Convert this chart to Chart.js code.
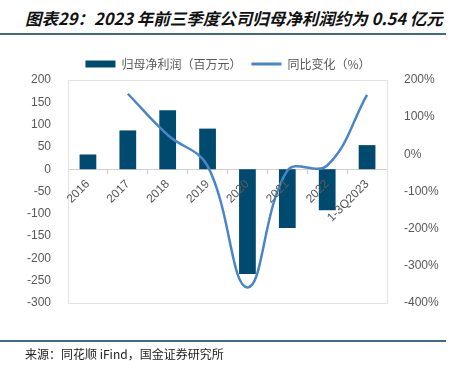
<!DOCTYPE html>
<html><head><meta charset="utf-8">
<script src="https://cdn.jsdelivr.net/npm/chart.js@4"></script>
<style>
html,body{margin:0;padding:0;background:#fff;}
#wrap{position:relative;width:456px;height:370px;overflow:hidden;}
#title{position:absolute;left:25px;top:6px;font-family:"Noto Sans CJK SC",sans-serif;font-weight:bold;font-style:italic;font-size:16.5px;color:#111;white-space:nowrap;}
.rule{position:absolute;left:0;width:446px;height:2px;background:#3e6b8a;}
#src{position:absolute;left:25px;top:345px;font-family:"Noto Sans CJK SC",sans-serif;font-size:12px;color:#222;white-space:nowrap;}
#c{position:absolute;left:0;top:0;}
</style></head><body>
<div id="wrap">
<div id="title">图表29：2023 年前三季度公司归母净利润约为 0.54 亿元</div>
<div class="rule" style="top:33px"></div>
<canvas id="c" width="456" height="370"></canvas>
<div class="rule" style="top:340px"></div>
<div id="src">来源：同花顺 iFind，国金证券研究所</div>
</div>
<script>
const categories = ["2016","2017","2018","2019","2020","2021","2022","1-3Q2023"];
const netProfit = [33, 87, 132, 91, -235, -132, -92, 54];
const yoyGrowth = [null, 163, 52, -31, -358, -44, -30, 160];
const seriesNames = ["归母净利润（百万元）", "同比变化（%）"];

const borderPlugin = {
  id: 'plotBorder',
  beforeDatasetsDraw(chart) {
    const a = chart.chartArea, ctx = chart.ctx;
    ctx.save();
    ctx.strokeStyle = '#e3e3e3';
    ctx.lineWidth = 1;
    ctx.strokeRect(Math.round(a.left)+0.5, Math.round(a.top)+0.5, Math.round(a.right-a.left), Math.round(a.bottom-a.top));
    ctx.restore();
  }
};

new Chart(document.getElementById('c'), {
  data: {
    labels: categories,
    datasets: [
      { type: 'line', label: seriesNames[1], data: yoyGrowth, yAxisID: 'y1',
        borderColor: '#4a86c6', backgroundColor: '#4a86c6', borderWidth: 2.5,
        pointRadius: 0, tension: 0.4, fill: false },
      { type: 'bar', label: seriesNames[0], data: netProfit, yAxisID: 'y',
        backgroundColor: '#004a70', borderWidth: 0,
        barPercentage: 0.42, categoryPercentage: 1 }
    ]
  },
  options: {
    responsive: false, animation: false, devicePixelRatio: 1,
    layout: { padding: { top: 48, bottom: 67, left: 0, right: 0 } },
    plugins: {
      tooltip: { enabled: false },
      legend: {
        position: 'top',
        labels: {
          sort: (a, b) => b.datasetIndex - a.datasetIndex,
          usePointStyle: true, pointStyleWidth: 30,
          boxWidth: 30, boxHeight: 7, padding: 10,
          color: '#595959',
          font: { family: '"Noto Sans CJK SC", sans-serif', size: 12 },
          generateLabels(chart) {
            const items = Chart.defaults.plugins.legend.labels.generateLabels(chart);
            items.forEach(it => {
              if (it.datasetIndex === 1) { it.pointStyle = 'rect'; it.lineWidth = 0; it.fillStyle = '#004a70'; }
              else { it.pointStyle = 'line'; it.lineWidth = 3; it.strokeStyle = '#4a86c6'; }
            });
            return items;
          }
        }
      }
    },
    scales: {
      x: {
        position: { y: 0 },
        offset: true,
        grid: { display: true, drawOnChartArea: false, offset: true, tickLength: 4, color: '#d0d0d0' },
        border: { display: true, color: '#d0d0d0' },
        ticks: { z: 1, color: '#595959', font: { family: '"Liberation Sans", Arial, sans-serif', size: 12 },
                 maxRotation: 45, minRotation: 45, padding: 4 }
      },
      y: {
        position: 'left', min: -300, max: 200,
        afterFit(s) { s.width = 68; },
        grid: { display: false },
        border: { display: false },
        ticks: { stepSize: 50, color: '#595959', padding: 9,
                 font: { family: '"Liberation Sans", Arial, sans-serif', size: 12 } }
      },
      y1: {
        position: 'right', min: -400, max: 200,
        afterFit(s) { s.width = 69; },
        grid: { display: false },
        border: { display: false },
        ticks: { stepSize: 100, color: '#595959', padding: 9,
                 font: { family: '"Liberation Sans", Arial, sans-serif', size: 12 },
                 callback: v => v + '%' }
      }
    }
  },
  plugins: [borderPlugin]
});
</script>
</body></html>
